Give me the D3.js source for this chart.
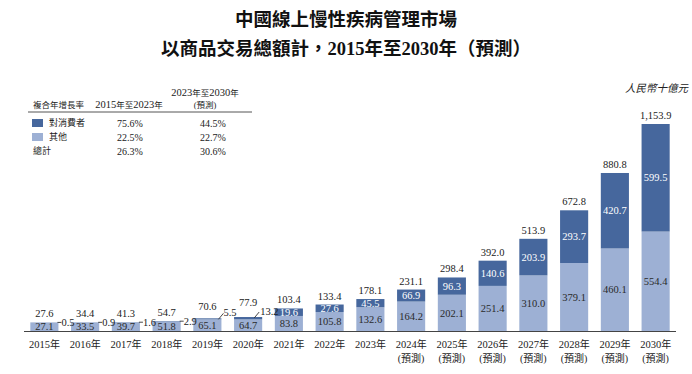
<!DOCTYPE html>
<html><head><meta charset="utf-8">
<script src="https://cdn.jsdelivr.net/npm/d3@7"></script>
<style>
html,body{margin:0;padding:0;background:#fff;}
svg{display:block;}
</style></head>
<body>
<svg id="chart" width="692" height="374"></svg>
<script>
const years = ["2015","2016","2017","2018","2019","2020","2021","2022","2023","2024","2025","2026","2027","2028","2029","2030"];
const forecast = [false,false,false,false,false,false,false,false,false,true,true,true,true,true,true,true];
const consumer = [0.5,0.9,1.6,2.9,5.5,13.2,19.6,27.6,45.5,66.9,96.3,140.6,203.9,293.7,420.7,599.5];
const other = [27.1,33.5,39.7,51.8,65.1,64.7,83.8,105.8,132.6,164.2,202.1,251.4,310.0,379.1,460.1,554.4];
const totals = [27.6,34.4,41.3,54.7,70.6,77.9,103.4,133.4,178.1,231.1,298.4,392.0,513.9,672.8,880.8,1153.9];
const totalLabels = ["27.6","34.4","41.3","54.7","70.6","77.9","103.4","133.4","178.1","231.1","298.4","392.0","513.9","672.8","880.8","1,153.9"];
const cagrHeaders = ["複合年增長率","2015年至2023年","2023年至2030年","(預測)"];
const cagrRows = ["對消費者","其他","總計"];
const cagrHist = ["75.6%","22.5%","26.3%"];
const cagrFcst = ["44.5%","22.7%","30.6%"];
const titleLines = ["中國線上慢性疾病管理市場","以商品交易總額計，2015年至2030年（預測）"];
const unitLabel = "人民幣十億元";

const DARK = "#46679d", LIGHT = "#9db0d4";
const SERIF = "'Liberation Serif','Noto Sans CJK TC',serif";
const svg = d3.select("#chart");

// helper: mixed text, CJK runs at a smaller size
function mixed(sel, str, latinSize, cjkSize){
  const runs = str.match(/[\u3000-\u9fff\uff00-\uffef()（）]+|[^\u3000-\u9fff\uff00-\uffef()（）]+/g) || [];
  runs.forEach(r=>{
    const cjk = /[\u3000-\u9fff\uff00-\uffef()（）]/.test(r);
    sel.append("tspan").attr("font-size", cjk ? cjkSize : latinSize).text(r);
  });
  return sel;
}

// Titles
svg.selectAll("text.title").data(titleLines).join("text")
  .attr("x", 346).attr("y", (d,i)=> i===0 ? 26 : 55)
  .attr("text-anchor","middle")
  .attr("font-family","'Liberation Serif','Noto Sans CJK TC',sans-serif")
  .attr("font-weight","bold").attr("font-size", 18.5).attr("fill","#111")
  .text(d=>d);

// Unit
svg.append("text").attr("x",688).attr("y",92).attr("text-anchor","end")
  .attr("font-family","'Noto Sans CJK TC',sans-serif").attr("font-style","italic")
  .attr("font-size",10.5).attr("fill","#222").text(unitLabel);

// Scales
const x = d3.scaleBand().domain(years).range([24,676]).paddingInner(0.31).paddingOuter(0.155);
const y = d3.scaleLinear().domain([0,1153.9]).range([331,124]);
const bw = x.bandwidth();
const MIN_LIGHT = 8.5, MIN_DARK = 7.5;

const data = years.map((yr,i)=>{
  const lh = Math.max(y(0)-y(other[i]), MIN_LIGHT);
  const dhRaw = y(other[i]) - y(other[i]+consumer[i]);
  const dh = i>=6 ? Math.max(dhRaw, MIN_DARK) : dhRaw;
  const lTop = y(0) - lh;
  const dTop = lTop - dh;
  return {yr,i,c:consumer[i],o:other[i],t:totals[i],tl:totalLabels[i],f:forecast[i],lh,dh,lTop,dTop};
});

const g = svg.append("g");
// light segments
g.selectAll("rect.o").data(data).join("rect")
  .attr("x",d=>x(d.yr)).attr("width",bw)
  .attr("y",d=>d.lTop).attr("height",d=>d.lh).attr("fill",LIGHT);
// dark segments
g.selectAll("rect.c").data(data).join("rect")
  .attr("x",d=>x(d.yr)).attr("width",bw)
  .attr("y",d=>d.dTop).attr("height",d=>d.dh).attr("fill",DARK);

// axis baseline
const axis = d3.axisBottom(x).tickSize(0).tickFormat("");
svg.append("g").attr("transform",`translate(0,${y(0)})`).call(axis)
  .call(a=>a.select(".domain").attr("d","M24,0.5H676").attr("stroke","#444").attr("stroke-width",1.2));

// x labels
const xl = svg.append("g").attr("font-family",SERIF).attr("fill","#222");
xl.selectAll("text.yr").data(data).join("text")
  .attr("x",d=>x(d.yr)+bw/2).attr("y",348).attr("text-anchor","middle")
  .each(function(d){ mixed(d3.select(this), d.yr+"年", 10.5, 10); });
xl.selectAll("text.fc").data(data.filter(d=>d.f)).join("text")
  .attr("x",d=>x(d.yr)+bw/2).attr("y",362).attr("text-anchor","middle").attr("font-size",10).text("(預測)");

// total labels
const extraUp = d => d.i===4 ? 3 : (d.i===5 ? 6 : 0);
g.selectAll("text.tot").data(data).join("text")
  .attr("x",d=>x(d.yr)+bw/2).attr("y",d=>d.dTop-5-extraUp(d)).attr("text-anchor","middle")
  .attr("font-family",SERIF).attr("font-size",10.5).attr("fill","#222").text(d=>d.tl);

// light labels
g.selectAll("text.ol").data(data).join("text")
  .attr("x",d=>x(d.yr)+bw/2).attr("y",d=>d.lTop+d.lh/2).attr("dy","0.35em").attr("text-anchor","middle")
  .attr("font-family",SERIF).attr("font-size",10.5).attr("fill","#2a2a2a").text(d=>d.o.toFixed(1));

// dark labels inside (2021+)
const inside = data.filter(d=>d.i>=6);
g.selectAll("text.cl").data(inside).join("text")
  .attr("x",d=>x(d.yr)+bw/2).attr("y",d=>d.dTop+d.dh/2).attr("dy","0.35em").attr("text-anchor","middle")
  .attr("font-family",SERIF).attr("font-size",10.5).attr("fill","#fff").text(d=>d.c.toFixed(1));

// dark labels outside (2015-2020) with leader lines
const outside = data.filter(d=>d.i<6);
g.selectAll("line.ld").data(outside).join("line")
  .attr("x1",d=> d.i<4 ? x(d.yr)+bw-1 : x(d.yr)+bw-(d.i===5?8:3))
  .attr("y1",d=> d.dTop + (d.i<4?0:1))
  .attr("x2",d=> d.i<4 ? x(d.yr)+bw+3 : x(d.yr)+bw+(d.i===5?-3:2))
  .attr("y2",d=> d.i<4 ? d.dTop : d.dTop-5)
  .attr("stroke","#333").attr("stroke-width",0.9);
g.selectAll("text.co").data(outside).join("text")
  .attr("x",d=> d.i<4 ? x(d.yr)+bw+3 : x(d.yr)+bw+(d.i===5?-2:2))
  .attr("y",d=> d.i<4 ? d.dTop : d.dTop-6).attr("dy","0.35em")
  .attr("font-family",SERIF).attr("font-size",10.5).attr("fill","#222").text(d=>d.c.toFixed(1));

// CAGR table
const tb = svg.append("g").attr("font-family",SERIF).attr("fill","#222");
mixed(tb.append("text").attr("x",33).attr("y",108), cagrHeaders[0], 10.5, 8.5);
mixed(tb.append("text").attr("x",129).attr("y",108).attr("text-anchor","middle"), cagrHeaders[1], 10.5, 8.5);
mixed(tb.append("text").attr("x",205).attr("y",96).attr("text-anchor","middle"), cagrHeaders[2], 10.5, 8.5);
mixed(tb.append("text").attr("x",205).attr("y",108).attr("text-anchor","middle"), cagrHeaders[3], 10.5, 8.5);
tb.append("line").attr("x1",28).attr("x2",252).attr("y1",112).attr("y2",112).attr("stroke","#555").attr("stroke-width",1);
const rowY = [123,137,151];
const swCol = [DARK, LIGHT, null];
cagrRows.forEach((r,i)=>{
  if (swCol[i]) tb.append("rect").attr("x",32).attr("y",rowY[i]-4).attr("width",11).attr("height",8).attr("fill",swCol[i]);
  tb.append("text").attr("x",swCol[i]?49:33).attr("y",rowY[i]).attr("dy","0.35em").attr("font-size",9).text(r);
  tb.append("text").attr("x",130).attr("y",rowY[i]).attr("dy","0.35em").attr("text-anchor","middle").attr("font-size",10).text(cagrHist[i]);
  tb.append("text").attr("x",213).attr("y",rowY[i]).attr("dy","0.35em").attr("text-anchor","middle").attr("font-size",10).text(cagrFcst[i]);
});
</script>
</body></html>
